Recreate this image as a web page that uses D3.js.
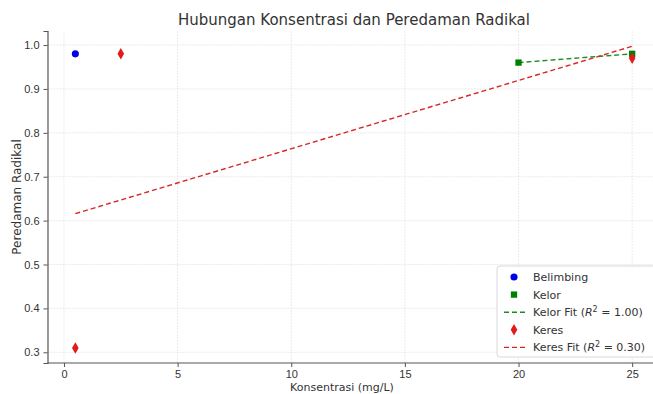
<!DOCTYPE html>
<html>
<head>
<meta charset="utf-8">
<script src="https://cdn.jsdelivr.net/npm/d3@7"></script>
<style>
  body { margin: 0; background: #fff; }
  svg { font-family: "DejaVu Sans", sans-serif; }
</style>
</head>
<body>
<div id="chart"></div>
<script>
// Data
const belimbingX = [0.5];
const belimbingY = [0.98];
const kelorX = [20, 25];
const kelorY = [0.96, 0.98];
const keresX = [0.5, 2.5, 25];
const keresY = [0.31, 0.98, 0.97];
const xTicks = [0, 5, 10, 15, 20, 25];
const yTicks = [0.3, 0.4, 0.5, 0.6, 0.7, 0.8, 0.9, 1.0];

const WIDTH = 653;
const HEIGHT = 394;

const svg = d3
  .select("#chart")
  .append("svg")
  .attr("width", WIDTH)
  .attr("height", HEIGHT);

// linear fit (least squares)
function fit(xs, ys) {
  const mx = d3.mean(xs), my = d3.mean(ys);
  let sxy = 0, sxx = 0, sst = 0;
  xs.forEach((x, i) => {
    sxy += (x - mx) * (ys[i] - my);
    sxx += (x - mx) * (x - mx);
    sst += (ys[i] - my) * (ys[i] - my);
  });
  const b = sxy / sxx;
  const a = my - b * mx;
  const ssr = b * b * sxx;
  return { a, b, r2: sst === 0 ? 1 : ssr / sst };
}

const kelorFit = fit(kelorX, kelorY);
const keresFit = fit(keresX, keresY);

const x = d3.scaleLinear().domain([-0.725, 26.225]).range([47.5, 660]);
const y = d3.scaleLinear().domain([0.2756, 1.032]).range([363, 31]);

// grid
const grid = svg.append("g");
grid.selectAll("line.gx")
  .data(xTicks)
  .join("line")
  .attr("x1", d => x(d)).attr("x2", d => x(d))
  .attr("y1", y.range()[1]).attr("y2", y.range()[0])
  .attr("stroke", "#e6e6e6").attr("stroke-width", 0.8)
  .attr("stroke-dasharray", "2,1");
grid.selectAll("line.gy")
  .data(yTicks)
  .join("line")
  .attr("x1", x.range()[0]).attr("x2", WIDTH)
  .attr("y1", d => y(d)).attr("y2", d => y(d))
  .attr("stroke", "#e6e6e6").attr("stroke-width", 0.8)
  .attr("stroke-dasharray", "2,1");

// axes
const xAxis = svg.append("g")
  .attr("transform", `translate(0, ${y.range()[0]})`)
  .call(d3.axisBottom(x).tickValues(xTicks).tickFormat(d3.format("d")).tickSize(4).tickPadding(3));
const yAxis = svg.append("g")
  .attr("transform", `translate(${x.range()[0]}, 0)`)
  .call(d3.axisLeft(y).tickValues(yTicks).tickFormat(d3.format(".1f")).tickSize(4).tickPadding(4));

[xAxis, yAxis].forEach(g => {
  g.select(".domain").attr("stroke", "#555").attr("stroke-width", 1.2);
  g.selectAll(".tick line").attr("stroke", "#555");
  g.selectAll(".tick text").attr("fill", "#333").style("font-size", "11px");
});
xAxis.select(".domain").attr("d", `M${x.range()[0]},0H${WIDTH}`);

// labels
svg.append("text")
  .attr("x", 354).attr("y", 25)
  .attr("text-anchor", "middle")
  .attr("fill", "#333")
  .style("font-size", "15px")
  .text("Hubungan Konsentrasi dan Peredaman Radikal");

svg.append("text")
  .attr("x", 342).attr("y", 391)
  .attr("text-anchor", "middle")
  .attr("fill", "#333")
  .style("font-size", "11px")
  .text("Konsentrasi (mg/L)");

svg.append("text")
  .attr("transform", `translate(21, 197) rotate(-90)`)
  .attr("text-anchor", "middle")
  .attr("fill", "#333")
  .style("font-size", "12px")
  .text("Peredaman Radikal");

// fit lines
const line = d3.line().x(d => x(d[0])).y(d => y(d[1]));
const kx = d3.extent(kelorX);
svg.append("path")
  .datum(kx.map(v => [v, kelorFit.a + kelorFit.b * v]))
  .attr("d", line)
  .attr("fill", "none")
  .attr("stroke", "#1f8a1f")
  .attr("stroke-width", 1.4)
  .attr("stroke-dasharray", "5,3");
const rx = d3.extent(keresX);
svg.append("path")
  .datum(rx.map(v => [v, keresFit.a + keresFit.b * v]))
  .attr("d", line)
  .attr("fill", "none")
  .attr("stroke", "#d62728")
  .attr("stroke-width", 1.4)
  .attr("stroke-dasharray", "5,3");

// markers
const circle = d3.symbol().type(d3.symbolCircle).size(40);
const square = d3.symbol().type(d3.symbolSquare).size(40);
const diamond = d3.symbol().type(d3.symbolDiamond).size(38);

svg.selectAll("path.bel")
  .data(belimbingX.map((v, i) => [v, belimbingY[i]]))
  .join("path")
  .attr("transform", d => `translate(${x(d[0])}, ${y(d[1])})`)
  .attr("d", circle)
  .attr("fill", "#0000e6");

svg.selectAll("path.kel")
  .data(kelorX.map((v, i) => [v, kelorY[i]]))
  .join("path")
  .attr("transform", d => `translate(${x(d[0])}, ${y(d[1])})`)
  .attr("d", square)
  .attr("fill", "#008000");

svg.selectAll("path.ker")
  .data(keresX.map((v, i) => [v, keresY[i]]))
  .join("path")
  .attr("transform", d => `translate(${x(d[0])}, ${y(d[1])})`)
  .attr("d", diamond)
  .attr("fill", "#e31a1c");

// legend
const legend = svg.append("g").attr("transform", "translate(497, 266)");
legend.append("rect")
  .attr("width", 160).attr("height", 91)
  .attr("rx", 3)
  .attr("fill", "white").attr("fill-opacity", 0.85)
  .attr("stroke", "#d8d8d8");

const items = [
  { label: "Belimbing", kind: "circle", color: "#0000e6" },
  { label: "Kelor", kind: "square", color: "#008000" },
  { label: "Kelor Fit", kind: "line", color: "#1f8a1f", r2: kelorFit.r2 },
  { label: "Keres", kind: "diamond", color: "#e31a1c" },
  { label: "Keres Fit", kind: "line", color: "#d62728", r2: keresFit.r2 }
];

items.forEach((it, i) => {
  const g = legend.append("g").attr("transform", `translate(0, ${11 + i * 17.6})`);
  if (it.kind === "line") {
    g.append("line")
      .attr("x1", 7).attr("x2", 31).attr("y1", 0).attr("y2", 0)
      .attr("stroke", it.color).attr("stroke-width", 1.4)
      .attr("stroke-dasharray", "5,3");
  } else {
    const sym = it.kind === "circle" ? circle : it.kind === "square" ? square : diamond;
    g.append("path")
      .attr("transform", "translate(17,0)")
      .attr("d", sym)
      .attr("fill", it.color);
  }
  const t = g.append("text")
    .attr("x", 36).attr("y", 4)
    .attr("fill", "#333")
    .style("font-size", "11px")
    .text(it.label);
  if (it.kind === "line") {
    t.append("tspan").text(" (");
    t.append("tspan").style("font-style", "italic").text("R");
    t.append("tspan").attr("dy", -4).style("font-size", "8px").text("2");
    t.append("tspan").attr("dy", 4).text(" = " + it.r2.toFixed(2) + ")");
  }
});
</script>
</body>
</html>
